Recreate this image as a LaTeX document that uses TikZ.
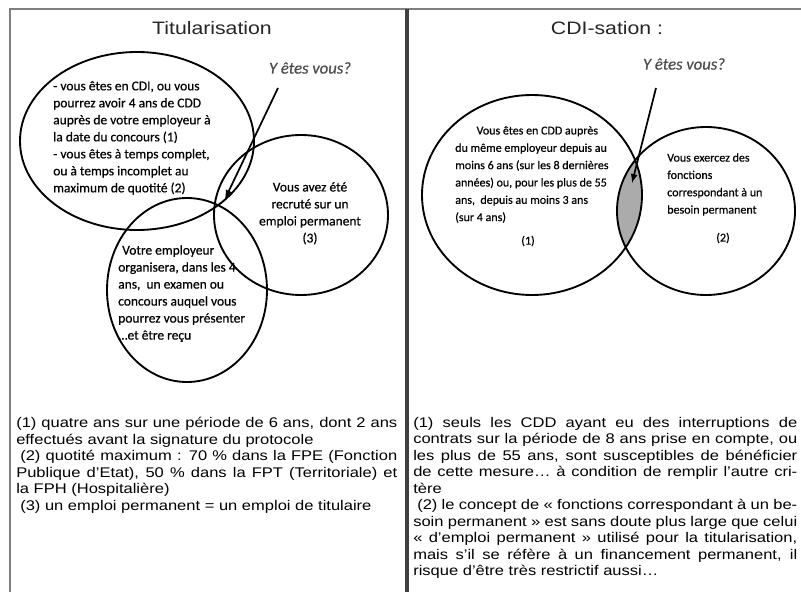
\documentclass[tikz,border=0pt]{standalone}
\usepackage{fontspec}
\setmainfont{Liberation Sans}[FakeStretch=1.18]
\newfontfamily\calfont{Carlito}[FakeBold=0.5]
\usepackage{tikz}
\usetikzlibrary{arrows,calc}

% one justified line of a note
\newcommand{\jline}[2]{\makebox[#1][s]{#2}}

\tikzset{
    venn/.style={line width=1.4pt},
    bubble/.style={inner sep=0pt, font=\calfont\fontsize{10.1}{12.75}\selectfont},
    smallbubble/.style={inner sep=0pt, font=\calfont\fontsize{9}{13}\selectfont},
    note/.style={inner sep=0pt, anchor=north west, align=left, font=\fontsize{10.5}{12.375}\selectfont},
    heading/.style={font=\fontsize{13.5}{16}\selectfont, text=black!85},
    ask/.style={font=\calfont\itshape\fontsize{12.5}{14}\selectfont, text=black!70}
}

\begin{document}
\begin{tikzpicture}[x=0.75pt,y=-0.75pt]
        \useasboundingbox (0,0) rectangle (801,592);

        % frame and middle rule
        \draw[black!50, line width=1.5pt] (9.5,592) -- (9.5,9.5) -- (801,9.5);
        \draw[black!75, line width=2.3pt] (407,9.5) -- (407,592);

        % ================== left side ==================
        \node[heading] (lTitle) at (212,28) {Titularisation};
        \node[ask] (lAsk) at (310,68) {Y êtes vous?};

        % left side circles
        \coordinate (lCenterA) at (137,141);
        \coordinate (lCenterB) at (301,215);
        \coordinate (lCenterC) at (187,290);
        \draw[venn] (lCenterA) ellipse [x radius=117, y radius=89];
        \draw[venn] (lCenterB) ellipse [x radius=87, y radius=80];
        \draw[venn] (lCenterC) ellipse [x radius=80, y radius=92];

        % left side circle texts
        \node[bubble, anchor=north west, align=left] (lReqA) at (53,81)
            {- vous êtes en CDI, ou vous\\pourrez avoir 4 ans de CDD\\auprès de votre employeur à\\la date du concours (1)\\- vous êtes à temps complet,\\ou à temps incomplet au\\maximum de quotité (2)};
        \node[bubble, anchor=north, align=center] (lReqB) at (310,182)
            {Vous avez été\\recruté sur un\\emploi permanent\\(3)};
        \node[bubble, anchor=north west, align=left] (lReqC) at (118,245)
            {\hspace*{3pt}Votre employeur\\organisera, dans les 4\\ans,~ un examen ou\\concours auquel vous\\pourrez vous présenter\\…et être reçu};

        % left side arrow
        \coordinate (lArrowFrom) at (278,88);
        \coordinate (lArrowTo) at (225,199);
        \draw[-latex, line width=1.3pt] (lArrowFrom) -- (lArrowTo);

        % left side notes
        \node[note] (lNotes) at (16,417)
            {\jline{285.75pt}{(1) quatre ans sur une période de 6 ans, dont 2 ans}\\
             effectués avant la signature du protocole\\
             \jline{285.75pt}{\hspace*{3pt}(2) quotité maximum : 70 \% dans la FPE (Fonction}\\
             \jline{285.75pt}{Publique d'Etat), 50 \% dans la FPT (Territoriale) et}\\
             la FPH (Hospitalière)\\
             \hspace*{3pt}(3) un emploi permanent = un emploi de titulaire};

        % ================== right side ==================
        \node[heading] (rTitle) at (607,28) {CDI-sation :};
        \node[ask] (rAsk) at (684,64) {Y êtes vous?};

        % right side circles, shaded overlap first
        \coordinate (rCenterD) at (532,195);
        \coordinate (rCenterE) at (706,211);
        \begin{scope}
            \clip (rCenterD) ellipse [x radius=110, y radius=100];
            \fill[black!33] (rCenterE) ellipse [x radius=89, y radius=84];
        \end{scope}
        \draw[venn] (rCenterD) ellipse [x radius=110, y radius=100];
        \draw[venn] (rCenterE) ellipse [x radius=89, y radius=84];

        % right side circle texts
        \node[smallbubble, anchor=north west, align=left] (rReqD) at (455,126)
            {\hspace*{16pt}Vous êtes en CDD auprès\\du même employeur depuis au\\moins 6 ans (sur les 8 dernières\\années) ou, pour les plus de 55\\ans,~ depuis au moins 3 ans\\(sur 4 ans)};
        \node[smallbubble] (rNumD) at (528,241) {(1)};
        \node[smallbubble, anchor=north west, align=left] (rReqE) at (667,153)
            {Vous exercez des\\fonctions\\correspondant à un\\besoin permanent};
        \node[smallbubble] (rNumE) at (723,238) {(2)};

        % right side arrow
        \coordinate (rArrowFrom) at (656,88);
        \coordinate (rArrowTo) at (632,183);
        \draw[-latex, line width=1.3pt] (rArrowFrom) -- (rArrowTo);

        % right side notes
        \node[note] (rNotes) at (413,417)
            {\jline{288pt}{(1) seuls les CDD ayant eu des interruptions de}\\
             \jline{288pt}{contrats sur la période de 8 ans prise en compte, ou}\\
             \jline{288pt}{les plus de 55 ans, sont susceptibles de bénéficier}\\
             \jline{288pt}{de cette mesure… à condition de remplir l'autre cri-}\\
             tère\\
             \jline{288pt}{\hspace*{3pt}(2) le concept de « fonctions correspondant à un be-}\\
             \jline{288pt}{soin permanent » est sans doute plus large que celui}\\
             \jline{288pt}{« d'emploi permanent » utilisé pour la titularisation,}\\
             \jline{288pt}{mais s'il se réfère à un financement permanent, il}\\
             risque d'être très restrictif aussi…};
\end{tikzpicture}
\end{document}
